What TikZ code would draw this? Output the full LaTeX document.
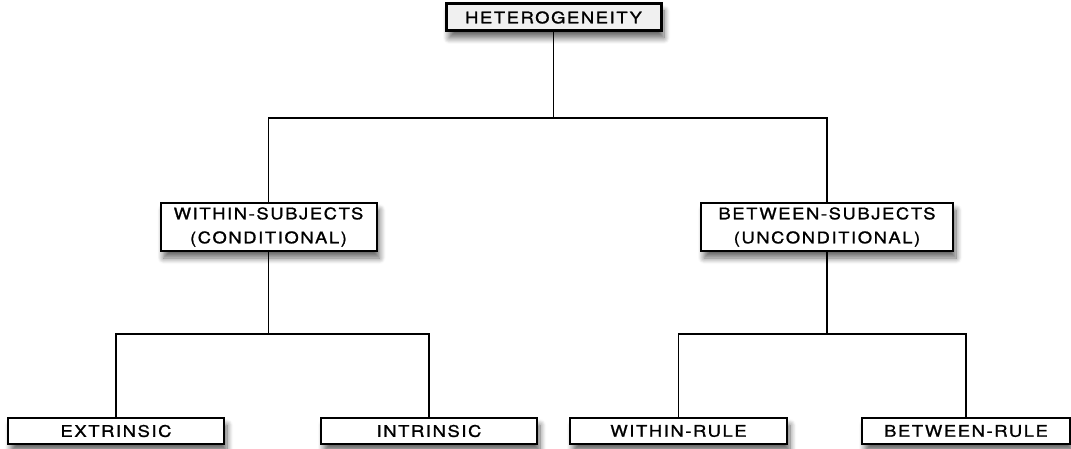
\documentclass[tikz,border=0pt]{standalone}
\usepackage{fontspec}
\newfontfamily\cpfont[LetterSpace=10,FakeStretch=1.15,FakeBold=1.2]{TeX Gyre Heros}
\usetikzlibrary{positioning,shadows.blur}

\begin{document}
\begin{tikzpicture}[x=1pt, y=-1pt,
	b/.style={draw, line width=2pt, fill=white, inner sep=0pt, align=center,
		font={\cpfont\fontsize{16}{24}\selectfont},
		blur shadow={shadow xshift=3pt, shadow yshift=-7pt, shadow blur radius=6pt, shadow blur steps=10, shadow opacity=60}},
	r/.style={b, minimum width=216pt, minimum height=26pt},
	l/.style={line width=1.8pt}]
		\useasboundingbox (0,0) rectangle (1071,449);

		\node[b, fill=gray!12, line width=3pt, minimum width=215pt, minimum height=27pt] (het) at (553.5,17.5) {HETEROGENEITY};
		\node[b, minimum width=216pt, minimum height=48pt] (wsub) at (268.5,227) {WITHIN-SUBJECTS\\(CONDITIONAL)};
		\node[b, minimum width=252pt, minimum height=48pt] (bsub) at (827,227) {BETWEEN-SUBJECTS\\(UNCONDITIONAL)};
		\node[r] (ext) at (116,431) {EXTRINSIC};
		\node[r] (intr) at (429,431) {INTRINSIC};
		\node[r, minimum width=217pt] (wrule) at (678.5,431) {WITHIN-RULE};
		\node[r, minimum width=208pt] (brule) at (966,431) {BETWEEN-RULE};

		\coordinate (j0) at (553.5,118);
		\coordinate (j1) at (268.5,334);
		\coordinate (j2) at (827,334);

		\begin{scope}[on background layer/.try]
		\draw[l] (het) -- (j0);
		\draw[l] (wsub.north) |- (j0) -| (bsub.north);
		\draw[l] (wsub) -- (j1);
		\draw[l] (ext.north) |- (j1) -| (intr.north);
		\draw[l] (bsub) -- (j2);
		\draw[l] (wrule.north) |- (j2) -| (brule.north);
		\end{scope}
	\end{tikzpicture}
\end{document}
